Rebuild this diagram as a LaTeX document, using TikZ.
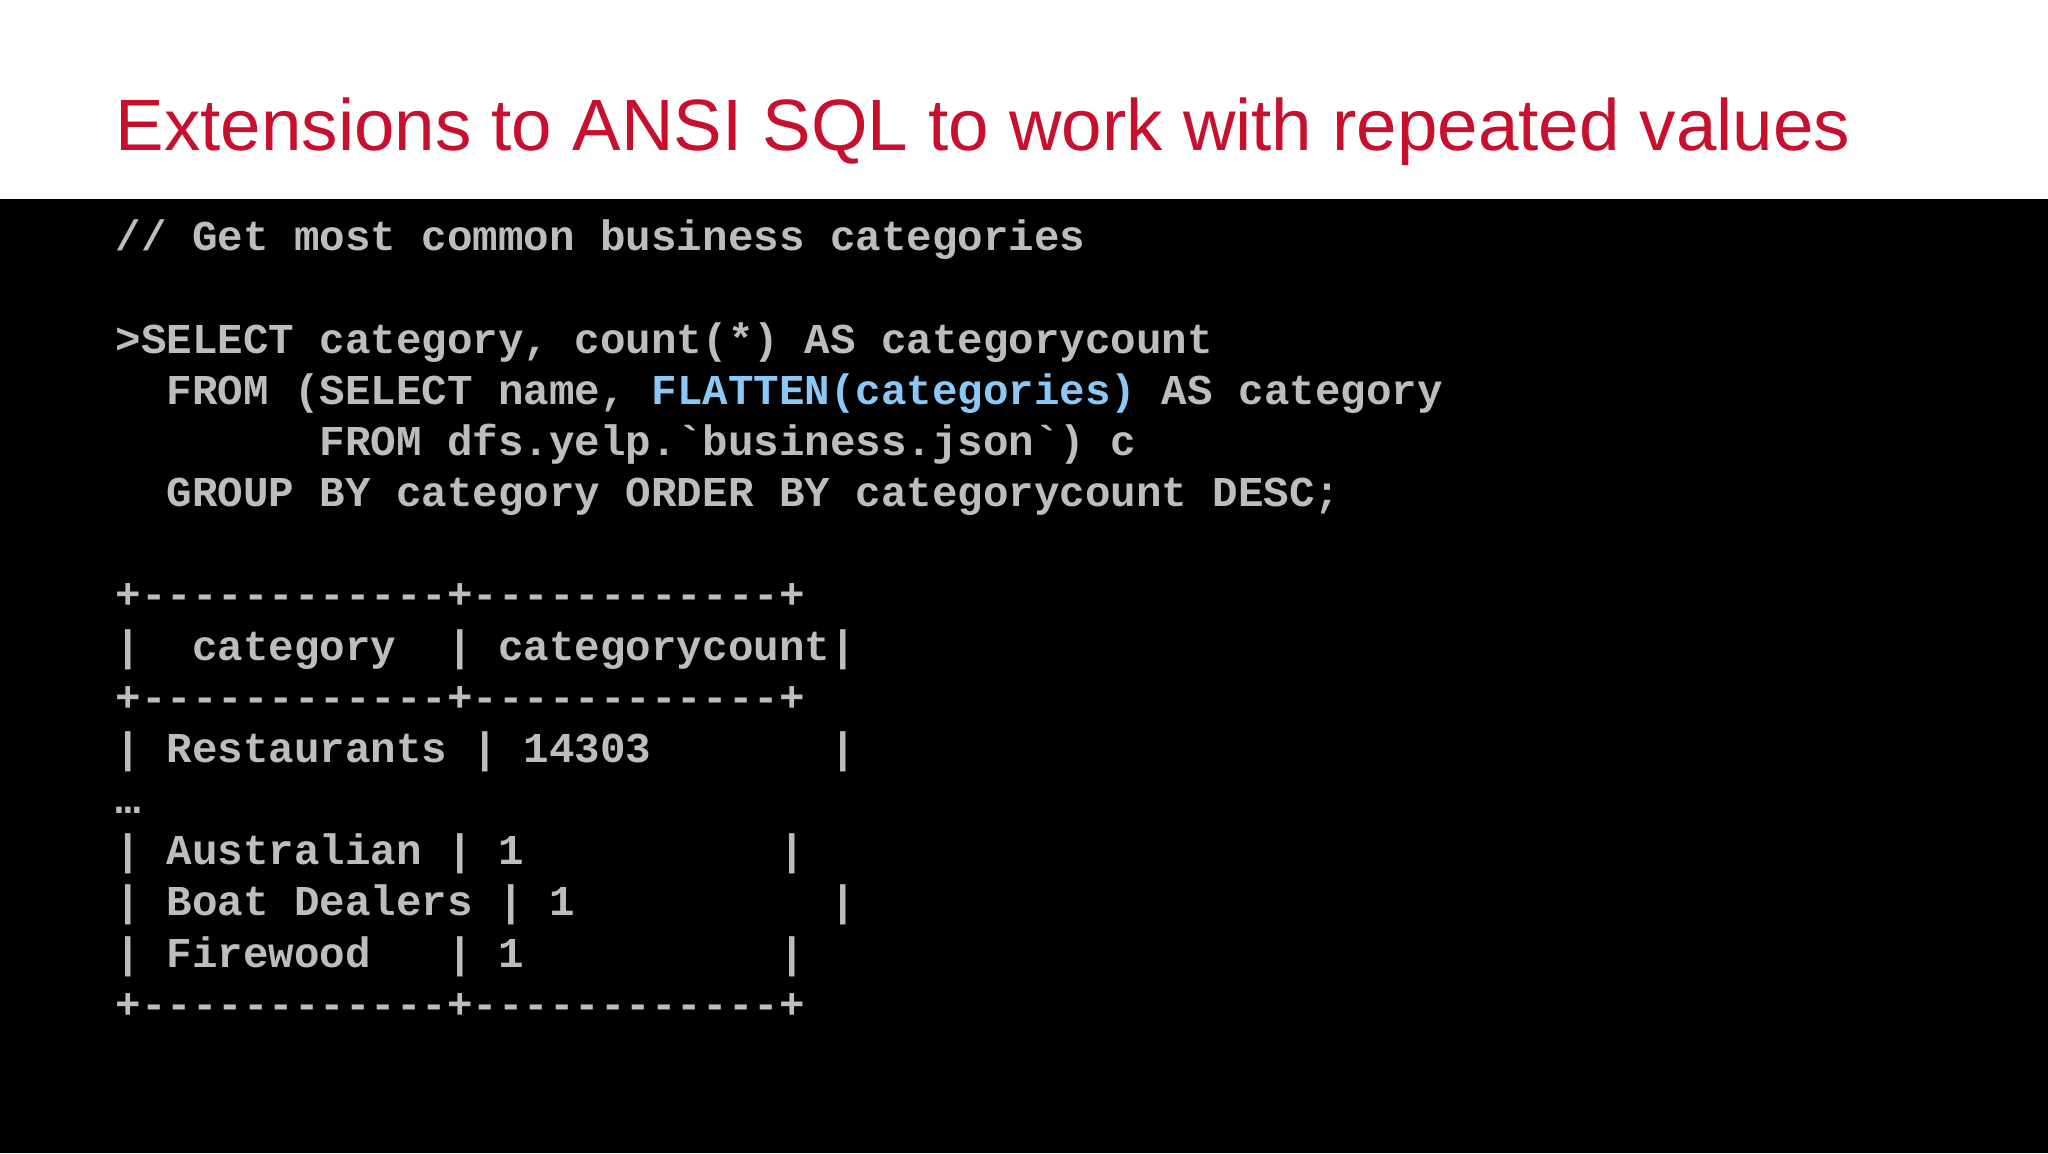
\documentclass[tikz,border=0pt]{standalone}
\usepackage{fontspec}
\setmainfont{Liberation Sans}
\newfontfamily\code{Liberation Mono}
\definecolor{titlered}{HTML}{C8102E}
\definecolor{codegray}{HTML}{BDBDBD}
\definecolor{codeblue}{HTML}{8CC8F5}
\begin{document}
\begin{tikzpicture}[x=0.01306cm,y=-0.01306cm,
  codeline/.style={anchor=base west,inner sep=0pt,text=codegray,font=\code\bfseries\fontsize{12.1pt}{14pt}\selectfont}]
\useasboundingbox (0,0) rectangle (1568,883);
\fill[white] (0,0) rectangle (1568,152);
\fill[black] (0,152) rectangle (1568,883);
\node[anchor=base west,inner sep=0pt,text=titlered,font=\fontsize{20.7pt}{24pt}\selectfont] (title) at (88,115) {Extensions to ANSI SQL to work with repeated values};
\node[codeline] (l1) at (88,192) {//~Get~most~common~business~categories};
\node[codeline] (l2) at (88,271) {>SELECT~category,~count(*)~AS~categorycount};
\node[codeline] (l3) at (88,310) {~~FROM~(SELECT~name,~\textcolor{codeblue}{FLATTEN(categories)}~AS~category};
\node[codeline] (l4) at (88,349) {~~~~~~~~FROM~dfs.yelp.`business.json`)~c};
\node[codeline] (l5) at (88,388) {~~GROUP~BY~category~ORDER~BY~categorycount~DESC;};
\node[codeline] (t1) at (88,466) {+------------+------------+};
\node[codeline] (t2) at (88,506) {|~~category~~|~categorycount|};
\node[codeline] (t3) at (88,545) {+------------+------------+};
\node[codeline] (t4) at (88,584) {|~Restaurants~|~14303~~~~~~~|};
\node[codeline] (t5) at (88,623) {…};
\node[codeline] (t6) at (88,662) {|~Australian~|~1~~~~~~~~~~|};
\node[codeline] (t7) at (88,701) {|~Boat~Dealers~|~1~~~~~~~~~~|};
\node[codeline] (t8) at (88,741) {|~Firewood~~~|~1~~~~~~~~~~|};
\node[codeline] (t9) at (88,780) {+------------+------------+};
\end{tikzpicture}
\end{document}
